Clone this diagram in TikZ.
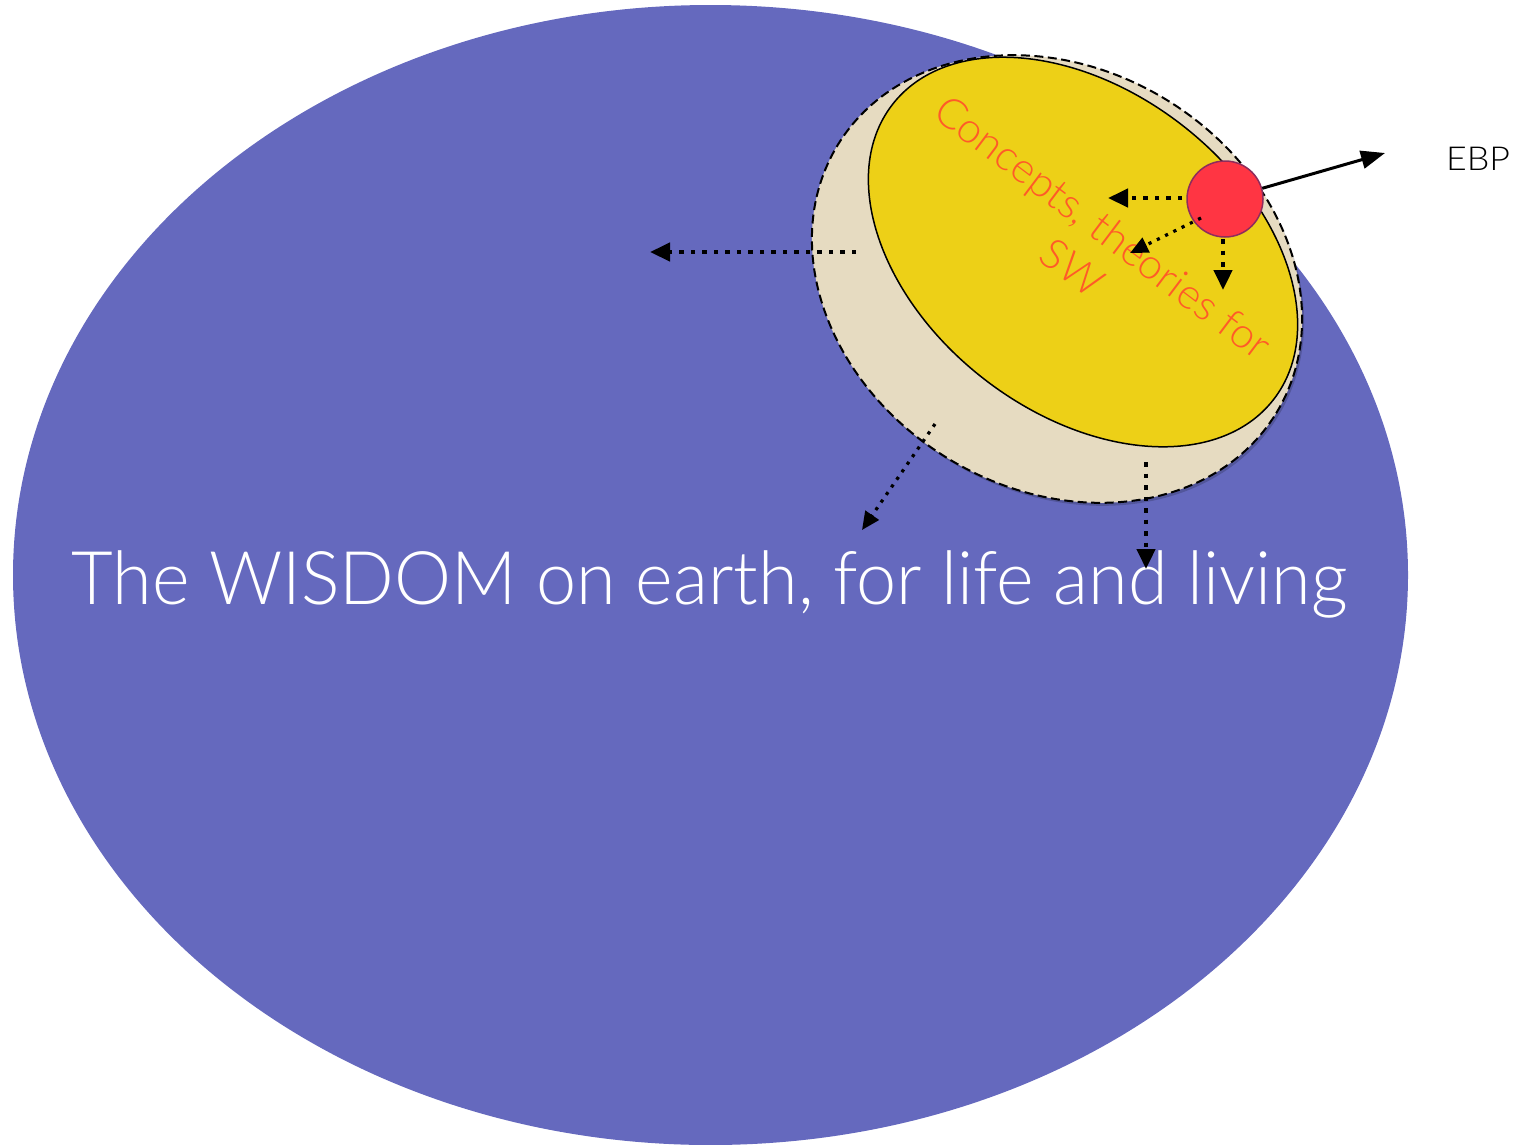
\documentclass[tikz,border=0pt]{standalone}
\usepackage{fontspec}
\usepackage{graphicx}
\setmainfont{Liberation Sans}
\IfFontExistsTF{Lato Light}{\newfontfamily\lightfont{Lato Light}}{\newfontfamily\lightfont{Liberation Sans}}
\usetikzlibrary{arrows.meta,shapes.geometric}
\definecolor{wblue}{HTML}{6569BE}
\definecolor{wbeige}{HTML}{E6DBC1}
\definecolor{wyellow}{HTML}{EDD017}
\definecolor{wred}{HTML}{FF3543}
\definecolor{wredline}{HTML}{8E2C5C}
\definecolor{worange}{HTML}{FF5A28}
\tikzset{
  dotarrow/.style={line width=4.5pt, dash pattern=on 4.5pt off 7pt, -{Triangle[length=20pt,width=18pt]}},
  thindotarrow/.style={line width=3.2pt, dash pattern=on 3.2pt off 6pt, -{Triangle[length=18pt,width=16pt]}},
  solidarrow/.style={line width=3pt, -{Triangle[length=24pt,width=18pt]}},
}
\begin{document}
\begin{tikzpicture}[x=1pt,y=-1pt]
\useasboundingbox (0,0) rectangle (1515,1144);
% big blue ellipse
\node[ellipse, fill=wblue, inner sep=0, minimum width=1395pt, minimum height=1140pt] (earth) at (710.5,575) {};
% shadow of beige disc
\node[ellipse, fill=black, opacity=0.18, inner sep=0, minimum width=514pt, minimum height=420pt, rotate=-31.5] (shadow) at (1059,282) {};
% beige disc
\node[ellipse, fill=wbeige, draw=black, line width=2pt, dash pattern=on 9pt off 4.5pt, inner sep=0, minimum width=514pt, minimum height=420pt, rotate=-31.5] (beige) at (1057,279) {};
% yellow disc
\node[ellipse, fill=wyellow, draw=black, line width=1.5pt, inner sep=0, minimum width=482pt, minimum height=322pt, rotate=-37.7] (yellow) at (1083,252) {};
% red text
\node[text=worange, font=\lightfont\fontsize{42}{53}\selectfont, inner sep=0, rotate=-37] (concepts) at (1085,251) {\resizebox{408pt}{\height}{\begin{tabular}{@{}c@{}}Concepts, theories for\\[-2pt]SW\end{tabular}}};
% main text
\node[text=white, font=\lightfont\fontsize{74}{80}\selectfont, anchor=base, inner sep=0] (wisdom) at (709.5,604) {\resizebox{1276pt}{\height}{The WISDOM on earth, for life and living}};
% EBP
\node[font=\lightfont\fontsize{33}{36}\selectfont, anchor=base, inner sep=0] (ebp) at (1478,170) {\resizebox{64pt}{\height}{EBP}};
% coordinates
\coordinate (ebpend) at (1385,153);
\coordinate (a3s) at (1182,198);
\coordinate (a3e) at (1108,198);
\coordinate (a4s) at (1201,218);
\coordinate (a4e) at (1130,253);
\coordinate (a5s) at (1223,239);
\coordinate (a5e) at (1223,290);
\coordinate (a6s) at (856,252);
\coordinate (a6e) at (650,252);
\coordinate (a7s) at (935,424);
\coordinate (a7e) at (862,530);
\coordinate (a8s) at (1146,462);
\coordinate (a8e) at (1146,569);
% dotted arrows
\draw[dotarrow] (a6s) -- (a6e);
\draw[thindotarrow] (a7s) -- (a7e);
\draw[dotarrow] (a8s) -- (a8e);
% red circle
\node[circle, fill=wred, draw=wredline, line width=1.5pt, inner sep=0, minimum size=76pt] (red) at (1225,199) {};
\draw[dotarrow] (a3s) -- (a3e);
\draw[thindotarrow] (a4s) -- (a4e);
\draw[dotarrow] (a5s) -- (a5e);
\draw[solidarrow] (red) -- (ebpend);
\end{tikzpicture}
\end{document}
